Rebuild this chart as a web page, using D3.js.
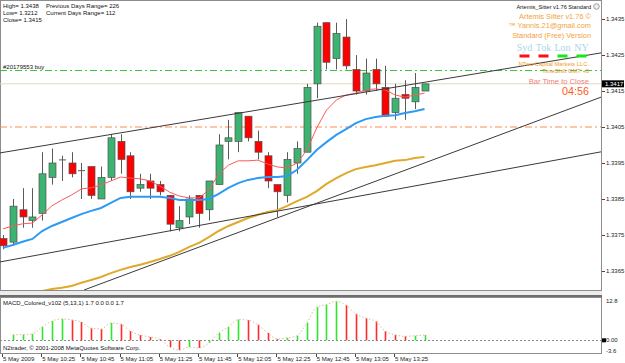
<!DOCTYPE html>
<html>
<head>
<meta charset="utf-8">
<script src="https://cdnjs.cloudflare.com/ajax/libs/d3/7.8.5/d3.min.js"></script>
<style>
  body { margin: 0; background: #fff; }
  svg { display: block; font-family: "Liberation Sans", Arial, sans-serif; }
</style>
</head>
<body>
<svg id="chart" width="625" height="363"></svg>
<script>
// EURUSD M5, 5 May 2009, one bar every 5 minutes from 10:05
const opens  = [1.3374,1.3373,1.3382,1.3379,1.3381,1.3391,1.3396,1.3395,1.3393,1.3394,
                1.3385,1.3391,1.3401,1.3397,1.3388,1.3390,1.3389,1.3386,1.3377,1.3380,
                1.3386,1.3382,1.3389,1.3401,1.3401,1.3408,1.3401,1.3397,1.3389,1.3386,
                1.3395,1.3398,1.3417,1.3434,1.3424,1.3430,1.3421,1.3415,1.3421,1.3416,
                1.3409,1.3414,1.3412,1.3415];
const highs  = [1.3375,1.3385,1.3388,1.3388,1.3398,1.3399,1.3397,1.3398,1.3395,1.3394,
                1.3394,1.3403,1.3403,1.3398,1.3392,1.3392,1.3390,1.3386,1.3383,1.3386,
                1.3386,1.3390,1.3403,1.3407,1.3409,1.3408,1.3404,1.3398,1.3389,1.3398,
                1.3401,1.3417,1.3434,1.3434,1.3434,1.3435,1.3425,1.3424,1.3424,1.3422,
                1.3417,1.3418,1.3420,1.3417];
const lows   = [1.3371,1.3372,1.3377,1.3377,1.3379,1.3389,1.3390,1.3391,1.3385,1.3385,
                1.3385,1.3390,1.3392,1.3385,1.3387,1.3385,1.3386,1.3376,1.3376,1.3378,
                1.3377,1.3379,1.3389,1.3396,1.3398,1.3401,1.3396,1.3388,1.3380,1.3384,
                1.3392,1.3398,1.3413,1.3421,1.3421,1.3421,1.3414,1.3414,1.3415,1.3408,
                1.3407,1.3407,1.3410,1.3415];
const closes = [1.3372,1.3383,1.3380,1.3380,1.3392,1.3395,1.3396,1.3392,1.3393,1.3386,
                1.3391,1.3402,1.3396,1.3387,1.3389,1.3388,1.3387,1.3378,1.3379,1.3385,
                1.3381,1.3390,1.3400,1.3402,1.3409,1.3402,1.3398,1.3390,1.3387,1.3396,
                1.3399,1.3416,1.3433,1.3423,1.3431,1.3422,1.3415,1.3420,1.3417,1.3408,
                1.3413,1.3413,1.3416,1.3417];

// moving averages
const maFast = [1.33767,1.33775,1.33781,1.33783,1.33806,1.33831,1.33847,1.33861,1.33878,1.33881,
                1.33889,1.33900,1.33911,1.33908,1.33906,1.33900,1.33886,1.33869,1.33858,1.33853,
                1.33853,1.33875,1.33919,1.33944,1.33956,1.33956,1.33958,1.33947,1.33939,1.33936,
                1.33950,1.33986,1.34047,1.34097,1.34125,1.34139,1.34144,1.34153,1.34156,1.34153,
                1.34139,1.34133,1.34139,1.34144];
const maMid  = [1.33714,1.33722,1.33731,1.33739,1.33761,1.33775,1.33786,1.33797,1.33808,1.33817,
                1.33825,1.33839,1.33853,1.33856,1.33856,1.33856,1.33856,1.33853,1.33847,1.33847,
                1.33847,1.33850,1.33864,1.33881,1.33894,1.33903,1.33908,1.33911,1.33911,1.33914,
                1.33931,1.33958,1.33986,1.34008,1.34028,1.34044,1.34061,1.34072,1.34078,1.34081,
                1.34083,1.34089,1.34094,1.34100];
const maSlow = [1.33569,1.33575,1.33581,1.33589,1.33594,1.33600,1.33603,1.33608,1.33617,1.33625,
                1.33633,1.33644,1.33653,1.33661,1.33667,1.33675,1.33683,1.33692,1.33703,1.33717,
                1.33728,1.33744,1.33761,1.33775,1.33786,1.33797,1.33806,1.33814,1.33819,1.33831,
                1.33844,1.33856,1.33872,1.33892,1.33908,1.33922,1.33933,1.33939,1.33944,1.33950,
                1.33956,1.33958,1.33964,1.33967];

// MACD_Colored histogram
const macd = [null,1.8,1.9,2.1,4.4,6.3,7.0,6.7,6.0,4.0,
              3.7,5.7,5.3,3.0,1.7,1.1,0.3,-2.2,-3.2,-2.2,
              -2.5,-0.9,2.4,4.4,6.8,6.6,5.1,2.4,0.4,0.8,
              1.5,5.7,10.9,11.7,12.8,11.5,8.7,7.3,6.2,3.0,
              1.8,1.3,1.5,1.7];

const priceTicks = [1.3365,1.3375,1.3385,1.3395,1.3405,1.3415,1.3425,1.3435];
const macdTicks = [12.8, 0, -3.6];
const macdTickLabels = ["12.8","0.00","-3.6"];
const timeTickBars = [0,4,8,12,16,20,24,28,32,36,40];
const timeTickLabels = ["5 May 2009","5 May 10:25","5 May 10:45","5 May 11:05","5 May 11:25",
                        "5 May 11:45","5 May 12:05","5 May 12:25","5 May 12:45","5 May 13:05","5 May 13:25"];

// hand drawn trend lines: [bar, price] end points
const trendLines = [
  [[-0.3,1.33978],[61,1.34256]],
  [[-0.3,1.33675],[61,1.33981]],
  [[8.27,1.33597],[61,1.34133]]
];
const orderPrice = 1.34207;
const orderLabel = "#20179553 buy";
const levelPrice = 1.3405;
const bidPrice = 1.3417;

const infoLeft = ["High= 1.3438","Low= 1.3212","Close= 1.3415"];
const infoRange = ["Previous Days Range= 226","Current Days Range= 112"];
const sitterLines = ["Artemis Sitter v1.76 \u00a9","\u2122 Yannis.21@gmail.com","Standard (Free) Version"];
const sessions = ["Syd","Tok","Lon","NY"];
const sessionOpen = [false,false,true,true];

const svg = d3.select("#chart");
const plotRight = 601;
const mainTop = 0, mainBottom = 290;
const macdTop = 297, macdBottom = 353;

const x = d3.scaleLinear().domain([-0.3, 61]).range([0, plotRight]);
const y = d3.scaleLinear().domain([1.33597, 1.34403]).range([mainBottom, mainTop]);
const yMacd = d3.scaleLinear().domain([-4.16, 14.2]).range([macdBottom, macdTop]);

svg.append("rect").attr("width", 625).attr("height", 363).attr("fill", "#fff");

svg.append("clipPath").attr("id", "clipMain")
  .append("rect").attr("x", 0).attr("y", mainTop).attr("width", plotRight).attr("height", mainBottom - mainTop);

//panel frames and separator
svg.append("rect")
    .attr("x", 0.5).attr("y", 0.5)
    .attr("width", plotRight).attr("height", mainBottom)
    .attr("fill", "none").attr("stroke", "#8c8c8c");
svg.append("rect")
    .attr("x", 0).attr("y", mainBottom + 1)
    .attr("width", plotRight + 1).attr("height", 4)
    .attr("fill", "#ececec");
svg.append("rect")
    .attr("x", 0).attr("y", mainBottom + 5)
    .attr("width", plotRight + 1).attr("height", 2)
    .attr("fill", "#6e6e6e");
svg.append("rect")
    .attr("x", 0.5).attr("y", macdTop + 0.5)
    .attr("width", plotRight).attr("height", macdBottom - macdTop)
    .attr("fill", "none").attr("stroke", "#8c8c8c");

const main = svg.append("g").attr("clip-path", "url(#clipMain)");

// horizontal levels
main.append("line")
    .attr("x1", 0).attr("x2", plotRight)
    .attr("y1", y(bidPrice)).attr("y2", y(bidPrice))
    .attr("stroke", "#e2dab8").attr("stroke-width", 1);
main.append("line")
    .attr("x1", 0).attr("x2", plotRight)
    .attr("y1", y(orderPrice)).attr("y2", y(orderPrice))
    .attr("stroke", "#3cc43c").attr("stroke-width", 1)
    .attr("stroke-dasharray", "7,3,2,3");
main.append("line")
    .attr("x1", 0).attr("x2", plotRight)
    .attr("y1", y(levelPrice)).attr("y2", y(levelPrice))
    .attr("stroke", "#ff8a55").attr("stroke-width", 1)
    .attr("stroke-dasharray", "7,3,2,3");

// candles
const bars = d3.range(opens.length);
const candle = main.selectAll("g.candle")
    .data(bars)
    .enter()
    .append("g")
    .attr("class", "candle");

candle.append("line")
    .attr("x1", i => Math.round(x(i)) + 0.5).attr("x2", i => Math.round(x(i)) + 0.5)
    .attr("y1", i => y(highs[i])).attr("y2", i => y(lows[i]))
    .attr("stroke", "#5a5a5a");

candle.append("rect")
    .attr("x", i => Math.round(x(i)) - 3)
    .attr("width", 7)
    .attr("y", i => y(Math.max(opens[i], closes[i])))
    .attr("height", i => Math.max(1, Math.abs(y(opens[i]) - y(closes[i]))))
    .attr("fill", i => closes[i] > opens[i] ? "#3cb371" : closes[i] < opens[i] ? "#ff0000" : "#5a5a5a")
    .attr("stroke", i => closes[i] == opens[i] ? "none" : "#505050")
    .attr("stroke-width", 0.7);

// moving averages
const maLine = d3.line().x((d, i) => x(i)).y(d => y(d));
main.append("path").attr("d", maLine(maSlow))
    .attr("fill", "none").attr("stroke", "#dfa92a").attr("stroke-width", 2);
main.append("path").attr("d", maLine(maMid))
    .attr("fill", "none").attr("stroke", "#2e9af4").attr("stroke-width", 2);
main.append("path").attr("d", maLine(maFast))
    .attr("fill", "none").attr("stroke", "#fa5a5a").attr("stroke-width", 1);

// trend lines
main.selectAll("line.trend")
    .data(trendLines)
    .enter()
    .append("line")
    .attr("class", "trend")
    .attr("x1", d => x(d[0][0])).attr("y1", d => y(d[0][1]))
    .attr("x2", d => x(d[1][0])).attr("y2", d => y(d[1][1]))
    .attr("stroke", "#3a3a3a").attr("stroke-width", 1);

// price axis
svg.selectAll("line.ptick")
    .data(priceTicks)
    .enter()
    .append("line")
    .attr("class", "ptick")
    .attr("x1", plotRight + 1).attr("x2", plotRight + 4)
    .attr("y1", d => Math.round(y(d)) + 0.5).attr("y2", d => Math.round(y(d)) + 0.5)
    .attr("stroke", "#444");
svg.selectAll("text.plabel")
    .data(priceTicks)
    .enter()
    .append("text")
    .attr("class", "plabel")
    .attr("x", plotRight + 5)
    .attr("y", d => y(d) + 2)
    .attr("font-size", 6)
    .attr("fill", "#222")
    .text(d => d.toFixed(4));

// current bid box
svg.append("rect")
    .attr("x", plotRight + 1).attr("y", y(bidPrice) - 3.5)
    .attr("width", 22).attr("height", 7)
    .attr("fill", "#000");
svg.append("text")
    .attr("x", plotRight + 4).attr("y", y(bidPrice) + 2)
    .attr("font-size", 6).attr("fill", "#fff")
    .text(bidPrice.toFixed(4));

// MACD panel
const macdG = svg.append("g");
macdG.append("line")
    .attr("x1", 0).attr("x2", plotRight)
    .attr("y1", Math.round(yMacd(0)) + 0.5).attr("y2", Math.round(yMacd(0)) + 0.5)
    .attr("stroke", "#8a8a8a").attr("stroke-dasharray", "2,2");

macdG.selectAll("line.hist")
    .data(bars.filter(i => macd[i] !== null))
    .enter()
    .append("line")
    .attr("class", "hist")
    .attr("x1", i => Math.round(x(i)) + 0.5).attr("x2", i => Math.round(x(i)) + 0.5)
    .attr("y1", yMacd(0)).attr("y2", i => yMacd(macd[i]))
    .attr("stroke", i => (i > 0 && macd[i - 1] !== null && macd[i] < macd[i - 1]) ? "#ff2a2a" : "#2ee62e")
    .attr("stroke-width", 1.6);

const macdLine = d3.line()
    .defined(d => d !== null)
    .x((d, i) => x(i)).y(d => yMacd(d))
    .curve(d3.curveMonotoneX);
macdG.append("path").attr("d", macdLine(macd))
    .attr("fill", "none").attr("stroke", "#d9bf9a")
    .attr("stroke-width", 1).attr("stroke-dasharray", "1.5,2");

macdG.selectAll("text.mlabel")
    .data(macdTicks)
    .enter()
    .append("text")
    .attr("class", "mlabel")
    .attr("x", plotRight + 5)
    .attr("y", d => yMacd(d) + 2)
    .attr("font-size", 6).attr("fill", "#222")
    .text((d, i) => macdTickLabels[i]);
macdG.append("rect")
    .attr("x", plotRight + 1).attr("y", yMacd(0) - 2)
    .attr("width", 4).attr("height", 4).attr("fill", "#000");

macdG.append("text")
    .attr("x", 3).attr("y", macdTop + 8)
    .attr("font-size", 6).attr("fill", "#111")
    .text("MACD_Colored_v102 (5,13,1) 1.7 0.0 0.0 1.7");
macdG.append("text")
    .attr("x", 3).attr("y", macdBottom - 3)
    .attr("font-size", 6).attr("fill", "#111")
    .text("N2trader, \u00a9 2001-2008 MetaQuotes Software Corp.");

// time axis
svg.selectAll("line.ttick")
    .data(timeTickBars)
    .enter()
    .append("line")
    .attr("class", "ttick")
    .attr("x1", i => Math.round(x(i)) - 0.5).attr("x2", i => Math.round(x(i)) - 0.5)
    .attr("y1", macdBottom + 1).attr("y2", macdBottom + 4)
    .attr("stroke", "#444");
svg.selectAll("text.tlabel")
    .data(timeTickBars)
    .enter()
    .append("text")
    .attr("class", "tlabel")
    .attr("x", i => x(i))
    .attr("y", 361)
    .attr("font-size", 6).attr("fill", "#222")
    .text((d, k) => timeTickLabels[k]);

// info texts, top left
svg.selectAll("text.infoL")
    .data(infoLeft)
    .enter()
    .append("text")
    .attr("class", "infoL")
    .attr("x", 3).attr("y", (d, k) => 7.5 + k * 7.2)
    .attr("font-size", 6).attr("fill", "#111")
    .text(d => d);
svg.selectAll("text.infoR")
    .data(infoRange)
    .enter()
    .append("text")
    .attr("class", "infoR")
    .attr("x", 46).attr("y", (d, k) => 7.5 + k * 7.2)
    .attr("font-size", 6).attr("fill", "#111")
    .text(d => d);

svg.append("text")
    .attr("x", 3).attr("y", y(orderPrice) - 2)
    .attr("font-size", 6).attr("fill", "#111")
    .text(orderLabel);

// Artemis Sitter panel, top right
const textRight = 591;
svg.append("text")
    .attr("x", textRight).attr("y", 8.5)
    .attr("text-anchor", "end")
    .attr("font-size", 5.6).attr("fill", "#111")
    .text("Artemis_Sitter v1.76 Standard");
svg.append("circle")
    .attr("cx", 596.5).attr("cy", 6.5).attr("r", 2.8)
    .attr("fill", "#eee").attr("stroke", "#888").attr("stroke-width", 0.8);

svg.selectAll("text.sitter")
    .data(sitterLines)
    .enter()
    .append("text")
    .attr("class", "sitter")
    .attr("x", textRight).attr("y", (d, k) => 18.5 + k * 9.6)
    .attr("text-anchor", "end")
    .attr("font-size", 7.4).attr("fill", "#f2a33a")
    .text(d => d);

const sessionX = d3.scaleBand().domain(sessions).range([515, textRight]);
svg.selectAll("text.session")
    .data(sessions)
    .enter()
    .append("text")
    .attr("class", "session")
    .attr("x", d => sessionX(d) + sessionX.bandwidth() / 2)
    .attr("y", 51)
    .attr("text-anchor", "middle")
    .attr("font-family", "'Liberation Serif', serif")
    .attr("font-size", 10).attr("fill", "#a9d6ec")
    .text(d => d);
svg.selectAll("rect.session")
    .data(sessions)
    .enter()
    .append("rect")
    .attr("class", "session")
    .attr("x", d => sessionX(d) + sessionX.bandwidth() / 2 - 5)
    .attr("y", 54.5)
    .attr("width", 10).attr("height", 3)
    .attr("fill", (d, k) => sessionOpen[k] ? "#19e619" : "#ff1010");

svg.append("text")
    .attr("x", textRight - 2).attr("y", 65.5)
    .attr("text-anchor", "end")
    .attr("font-size", 5.8).attr("fill", "#f09a2a")
    .text("NTwo Capital Markets LLC.");
svg.append("text")
    .attr("x", textRight - 2).attr("y", 72.5)
    .attr("text-anchor", "end")
    .attr("font-size", 5.8).attr("fill", "#e8901e")
    .text("TimeShift GMT +0");

svg.append("text")
    .attr("x", textRight - 2).attr("y", 83.5)
    .attr("text-anchor", "end")
    .attr("font-size", 7.6).attr("fill", "#ee8080")
    .text("Bar Time to Close");
svg.append("text")
    .attr("x", textRight - 2).attr("y", 94.5)
    .attr("text-anchor", "end")
    .attr("font-size", 10.8).attr("fill", "#ff5a1e")
    .text("04:56");
</script>
</body>
</html>
